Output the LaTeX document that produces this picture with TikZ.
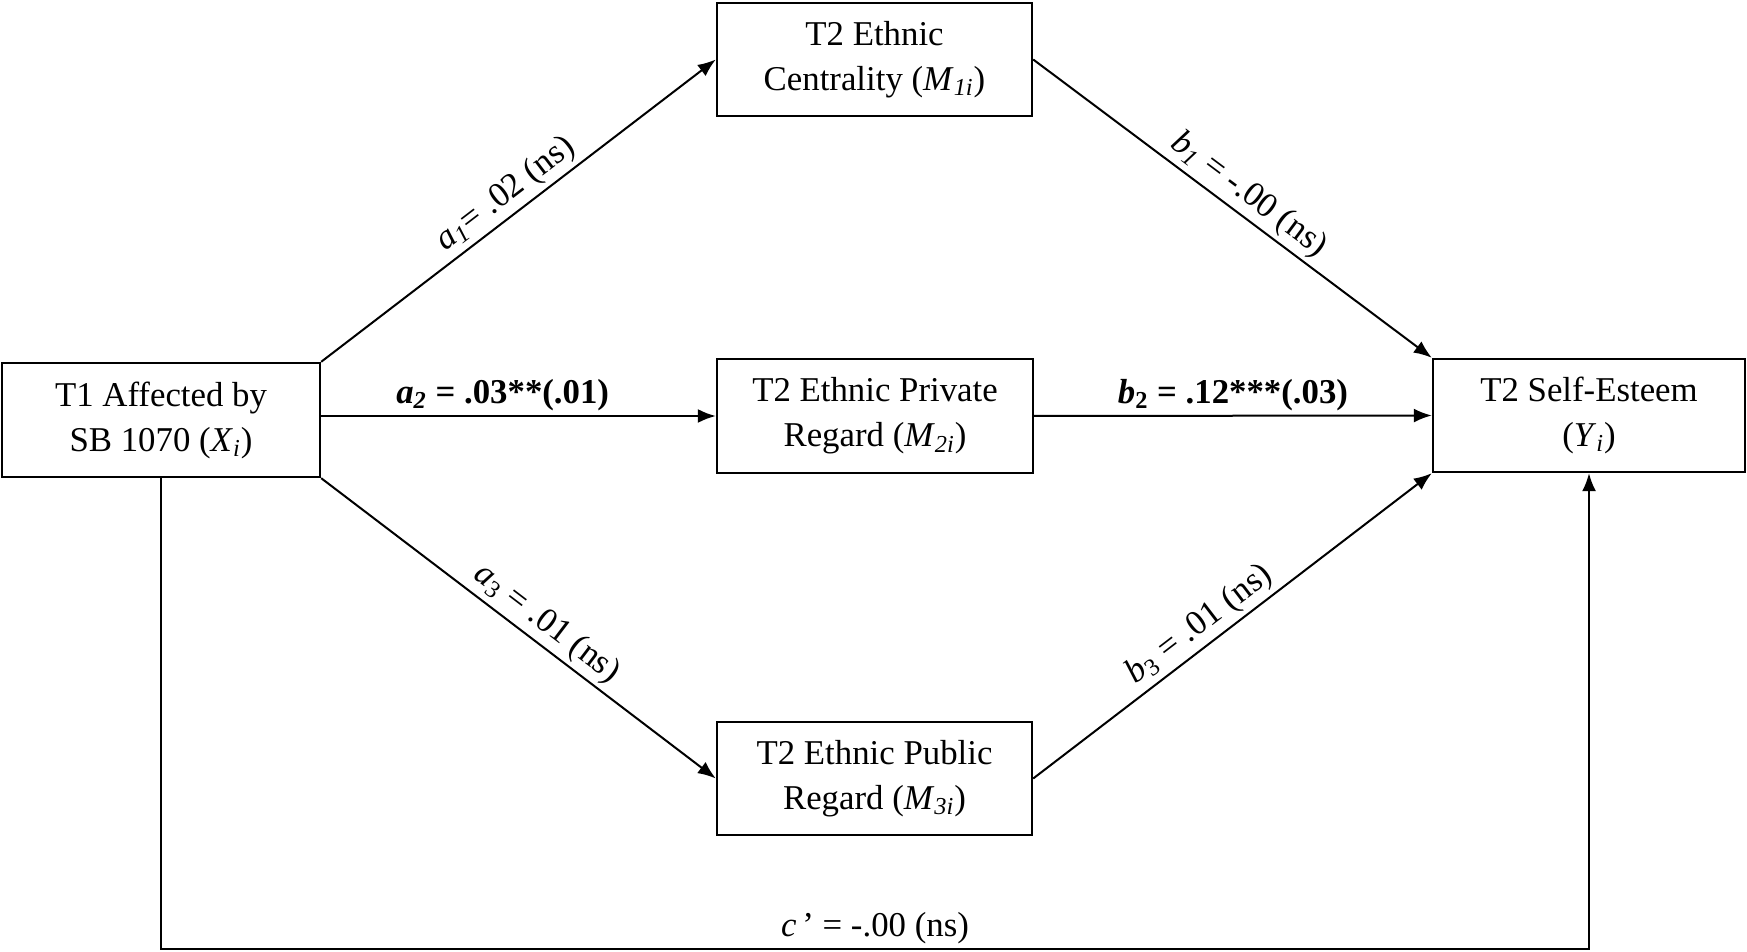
\documentclass[tikz,border=0pt]{standalone}
\usepackage{fontspec}
\setmainfont{Liberation Serif}
\usetikzlibrary{arrows.meta}
\begin{document}
\begin{tikzpicture}[x=0.5pt,y=-0.5pt,
  box/.style={draw,line width=1.2pt,rectangle,align=center,inner sep=0pt,
    font=\fontsize{17.4}{22.5}\selectfont},
  arr/.style={line width=1pt,-{Latex[length=9pt,width=7pt]}},
  lab/.style={font=\fontsize{17.4}{20}\selectfont,inner sep=2pt}]
\useasboundingbox (0,0) rectangle (1747,952);
\node[box,minimum width=159pt,minimum height=57pt] (X) at (161,420) {T1 Affected by\\SB 1070 (\textit{X}\textsubscript{\textit{i}})};
\node[box,minimum width=157.5pt,minimum height=56.5pt] (M1) at (874.5,59.5) {T2 Ethnic\\Centrality (\textit{M}\textsubscript{\textit{1i}})};
\node[box,minimum width=158pt,minimum height=57pt] (M2) at (875,416) {T2 Ethnic Private\\Regard (\textit{M}\textsubscript{\textit{2i}})};
\node[box,minimum width=157.5pt,minimum height=56.5pt] (M3) at (874.5,778.5) {T2 Ethnic Public\\Regard (\textit{M}\textsubscript{\textit{3i}})};
\node[box,minimum width=156pt,minimum height=56.5pt] (Y) at (1589,415.5) {T2 Self-Esteem\\(\textit{Y}\textsubscript{\textit{i}})};
\coordinate (bot) at (0,949);
\draw[arr] (X.north east) -- node[lab,above,sloped,pos=0.5] {\textit{a\textsubscript{1}}= .02 (ns)} (M1.west);
\draw[arr] (X.east |- M2.west) -- node[lab,above,pos=0.46] {\textbf{\textit{a\textsubscript{2}} = .03**(.01)}} (M2.west);
\draw[arr] (X.south east) -- node[lab,above,sloped,pos=0.54] {\textit{a}\textsubscript{3} = .01 (ns)} (M3.west);
\draw[arr] (M1.east) -- node[lab,above,sloped,pos=0.51] {\textit{b\textsubscript{1}} = -.00 (ns)} (Y.north west);
\draw[arr] (M2.east) -- node[lab,above,pos=0.5] {\textbf{\textit{b}\textsubscript{2} = .12***(.03)}} (Y.west);
\draw[arr] (M3.east) -- node[lab,above,sloped,pos=0.45] {\textit{b}\textsubscript{3} = .01 (ns)} (Y.south west);
\draw[arr] (X.south) -- (X.south |- bot) -- node[lab,above] {\textit{c}\,’ = -.00 (ns)} (Y.south |- bot) -- (Y.south);
\end{tikzpicture}
\end{document}
